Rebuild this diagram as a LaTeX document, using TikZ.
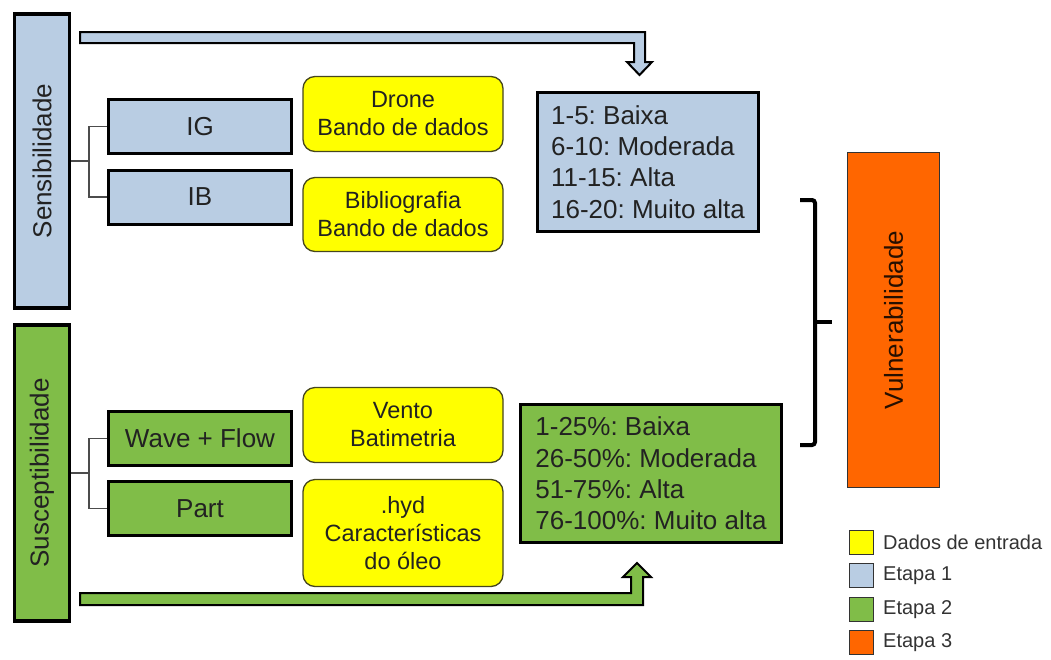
\documentclass[tikz,border=0pt]{standalone}
\usepackage{fontspec}
\setmainfont{Liberation Sans}
\usetikzlibrary{calc}
\frenchspacing
\definecolor{blu}{RGB}{185,205,227}
\definecolor{grn}{RGB}{128,189,72}
\definecolor{ylw}{RGB}{255,255,0}
\definecolor{org}{RGB}{255,102,0}
\definecolor{txt}{RGB}{34,34,34}
\definecolor{ylwline}{RGB}{70,70,30}
\begin{document}
\begin{tikzpicture}[x=1pt,y=-1pt,
  bigfont/.style={font=\fontsize{26}{31.3}\selectfont},
  midfont/.style={font=\fontsize{23.5}{28}\selectfont},
  sidebar/.style={draw=black, line width=3.2pt, rotate=90, minimum height=55pt, inner sep=0pt, text=txt, bigfont},
  idxbox/.style={draw=black, line width=3pt, minimum width=183pt, minimum height=54pt, inner sep=0pt, text=txt, bigfont},
  databox/.style={draw=ylwline, fill=ylw, line width=1.3pt, rounded corners=12pt, minimum width=200pt, inner sep=0pt, align=center, text=txt, midfont},
  valbox/.style={draw=black, line width=3pt, inner sep=0pt, align=left, text=txt, bigfont},
  tree/.style={draw=black!70, line width=1.3pt},
  blockarrow/.style={draw=black, line width=2pt, line join=miter},
  legsq/.style={draw=black!80, line width=1.2pt, minimum width=24pt, minimum height=24pt, inner sep=0pt},
  legtxt/.style={anchor=west, inner sep=0pt, text=black!80, font=\fontsize{20}{24}\selectfont}
]
\useasboundingbox (0,0) rectangle (1051,659);

% Etapa 1
\node[sidebar, fill=blu, minimum width=294pt] (sens) at (42,161) {Sensibilidade};
\node[idxbox, fill=blu] (ig) at (200,126.5) {IG};
\node[idxbox, fill=blu] (ib) at (200,197) {IB};
\node[databox, minimum height=75pt] (drone) at (403,114) {Drone\\Bando de dados};
\node[databox, minimum height=74pt] (biblio) at (403,214.5) {Bibliografia\\Bando de dados};
\node[valbox, fill=blu, minimum width=221pt, minimum height=139pt] (bval) at (648,162)
  {1-5: Baixa\\6-10: Moderada\\11-15: Alta\\16-20: Muito alta};

\draw[tree] (sens.south) -- ++(18,0);
\draw[tree] (ig.west) -- ++(-18,0) |- (ib.west);

% Etapa 2
\node[sidebar, fill=grn, minimum width=296pt] (sus) at (42,473) {Susceptibilidade};
\node[idxbox, fill=grn] (wave) at (200,438.5) {Wave + Flow};
\node[idxbox, fill=grn] (part) at (200,508.5) {Part};
\node[databox, minimum height=75pt] (vento) at (403,425) {Vento\\Batimetria};
\node[databox, minimum height=107pt] (hyd) at (403,533) {.hyd\\Características\\do óleo};
\node[valbox, fill=grn, minimum width=261pt, minimum height=138pt] (gval) at (651,473.5)
  {1-25\%: Baixa\\26-50\%: Moderada\\51-75\%: Alta\\76-100\%: Muito alta};

\draw[tree] (sus.south) -- ++(18,0);
\draw[tree] (wave.west) -- ++(-18,0) |- (part.west);

% block arrows
\draw[blockarrow, fill=blu] (80,32) -- (645,32) -- (645,62) -- (652,62) -- (639.5,75)
  -- (627,62) -- (634,62) -- (634,43) -- (80,43) -- cycle;
\draw[blockarrow, fill=grn] (80,593) -- (631,593) -- (631,577) -- (623,577) -- (637,563)
  -- (651,577) -- (643,577) -- (643,605) -- (80,605) -- cycle;

% Etapa 3
\node[draw=black!80, fill=org, line width=1pt, rotate=90, minimum width=335pt, minimum height=92pt,
  inner sep=0pt, text=black!85!org, bigfont] (vul) at (893.5,320) {Vulnerabilidade};
\draw[line width=4pt, rounded corners=3pt] (800,200) -- (815,200) -- (815,445) -- (800,445);
\draw[line width=4pt] (815,322) -- (832,322);

% legend
\node[legsq, fill=ylw] (l1) at (861.5,542.5) {};
\node[legsq, fill=blu] (l2) at (861.5,575.5) {};
\node[legsq, fill=grn] (l3) at (861.5,609.5) {};
\node[legsq, fill=org] (l4) at (861.5,642.5) {};
\node[legtxt] at (883,542.5) {Dados de entrada};
\node[legtxt] at (883,575.5) {Etapa 1};
\node[legtxt] at (883,609.5) {Etapa 2};
\node[legtxt] at (883,642.5) {Etapa 3};
\end{tikzpicture}
\end{document}
